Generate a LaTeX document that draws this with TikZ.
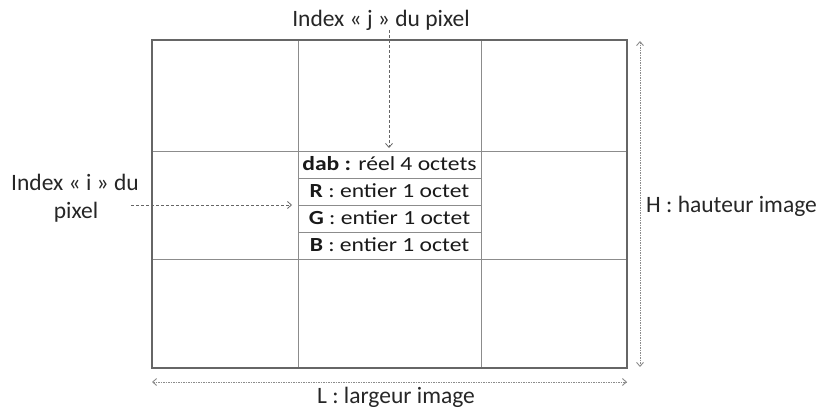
\documentclass[tikz,border=0pt]{standalone}
\usepackage{fontspec}
\setmainfont{Carlito}
\usetikzlibrary{arrows.meta}
\newcommand{\rowtxt}[1]{\scalebox{1.18}[1]{#1}}
\begin{document}
\begin{tikzpicture}[x=1pt,y=-1pt,
  lbl/.style={inner sep=0pt,anchor=base,font=\fontsize{23.5}{28}\selectfont,text=black!85},
  rowlbl/.style={inner sep=0pt,anchor=base,font=\fontsize{20}{24}\selectfont,text=black!90},
  outer/.style={draw=black!60,line width=1.1pt},
  grid/.style={draw=black!45,line width=0.7pt},
  ptr/.style={draw=black!60,line width=0.8pt,dash pattern=on 3pt off 2pt,-{Straight Barb[length=4pt,width=7pt]}},
  dim/.style={draw=black!45,line width=0.9pt,dash pattern=on 1.5pt off 1pt,{Straight Barb[length=4pt,width=7pt]}-{Straight Barb[length=4pt,width=7pt]}}]
\useasboundingbox (0,0) rectangle (823,412);
% grid
\draw[grid] (298,40) -- (298,368) (481,40) -- (481,368)
  (152,151) -- (627,151) (152,259) -- (627,259)
  (298,178) -- (481,178) (298,205) -- (481,205) (298,232) -- (481,232);
\draw[outer] (152,40) rectangle (627,368);
% row texts
\node[rowlbl] (dab) at (389.5,170) {\rowtxt{\textbf{dab :} réel 4 octets}};
\node[rowlbl] (R) at (389.5,197) {\rowtxt{\textbf{R} : entier 1 octet}};
\node[rowlbl] (G) at (389.5,224) {\rowtxt{\textbf{G} : entier 1 octet}};
\node[rowlbl] (B) at (389.5,251) {\rowtxt{\textbf{B} : entier 1 octet}};
\coordinate (dabtop) at (389,148);
\coordinate (rowleft) at (292,205);
% labels
\node[lbl] (j) at (381,27) {Index « j » du pixel};
\node[lbl] (i1) at (75,190) {Index « i » du};
\node[lbl] (i2) at (76,218) {pixel};
\node[lbl,anchor=base west] (H) at (646,212) {H : hauteur image};
\node[lbl] (L) at (396,403) {L : largeur image};
\coordinate (jstart) at (389,30);
\coordinate (Htop) at (640,41);
\coordinate (Hbot) at (640,367);
\coordinate (Lleft) at (152,382);
\coordinate (Lright) at (627,382);
\coordinate (istart) at (131,205);
% arrows
\draw[ptr] (jstart) -- (dabtop);
\draw[ptr] (istart) -- (rowleft);
\draw[dim] (Htop) -- (Hbot);
\draw[dim] (Lleft) -- (Lright);
\end{tikzpicture}
\end{document}
